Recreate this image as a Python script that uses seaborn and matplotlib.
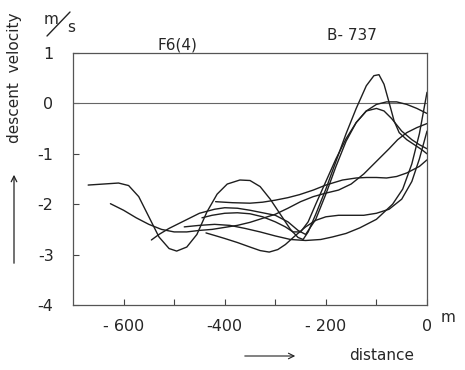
import numpy as np
import pandas as pd
import matplotlib
matplotlib.use("Agg")
import matplotlib.pyplot as plt
import seaborn as sns

# ---- data ----
c1_x = [-670, -640, -610, -590, -570, -550, -530, -510, -495, -475, -455, -435, -415, -395, -370, -350,
        -330, -310, -290, -270, -255, -245, -235, -220, -200, -180, -160, -140, -120, -105, -95, -85,
        -75, -65, -55, -40, -25, -10, 0]
c1_y = [-1.62, -1.60, -1.58, -1.63, -1.85, -2.25, -2.65, -2.88, -2.93, -2.85, -2.60, -2.15, -1.80, -1.60,
        -1.52, -1.53, -1.65, -1.90, -2.20, -2.50, -2.66, -2.70, -2.55, -2.20, -1.70, -1.15, -0.60, -0.10,
        0.35, 0.55, 0.57, 0.38, 0.02, -0.35, -0.58, -0.72, -0.82, -0.92, -1.00]

c2_x = [-626, -600, -575, -550, -525, -500, -475, -450, -425, -400, -375, -350, -325, -300, -275, -250,
        -225, -200, -175, -150, -125, -100, -75, -58, -40, -20, 0]
c2_y = [-1.99, -2.12, -2.27, -2.40, -2.50, -2.55, -2.55, -2.52, -2.50, -2.46, -2.42, -2.36, -2.28, -2.20,
        -2.08, -1.95, -1.85, -1.78, -1.72, -1.60, -1.40, -1.15, -0.90, -0.72, -0.58, -0.48, -0.40]

c3_x = [-545, -530, -510, -490, -470, -450, -420, -400, -375, -350, -325, -300, -275, -255, -240, -220,
        -200, -180, -160, -140, -120, -100, -85, -70, -50, -30, -15, 0]
c3_y = [-2.71, -2.60, -2.48, -2.38, -2.28, -2.18, -2.10, -2.07, -2.08, -2.12, -2.17, -2.22, -2.35, -2.52,
        -2.60, -2.30, -1.80, -1.25, -0.75, -0.38, -0.15, -0.10, -0.15, -0.30, -0.55, -0.72, -0.82, -0.90]

c4_x = [-418, -385, -350, -325, -300, -275, -252, -225, -200, -167, -140, -120, -100, -80, -60, -40,
        -15, 0]
c4_y = [-1.95, -1.97, -1.98, -1.96, -1.92, -1.87, -1.81, -1.72, -1.62, -1.52, -1.48, -1.47, -1.47, -1.48,
        -1.45, -1.38, -1.25, -1.12]

c5_x = [-445, -425, -400, -375, -350, -325, -300, -280, -265, -250, -235, -220, -200, -180, -160, -140,
        -120, -100, -80, -60, -40, -20, 0]
c5_y = [-2.27, -2.22, -2.18, -2.17, -2.19, -2.25, -2.35, -2.45, -2.55, -2.55, -2.35, -2.00, -1.55, -1.10,
        -0.70, -0.38, -0.15, -0.02, 0.03, 0.03, -0.02, -0.10, -0.20]

c6_x = [-437, -420, -400, -375, -350, -330, -312, -295, -280, -260, -240, -220, -200, -175, -150, -125,
        -100, -75, -50, -30, -15, 0]
c6_y = [-2.57, -2.62, -2.68, -2.76, -2.85, -2.92, -2.95, -2.90, -2.80, -2.62, -2.45, -2.32, -2.25, -2.22,
        -2.22, -2.22, -2.18, -2.10, -1.90, -1.55, -1.10, -0.55]

c7_x = [-480, -450, -420, -390, -360, -330, -300, -270, -240, -210, -187, -160, -133, -100, -68, -48,
        -30, -15, 0]
c7_y = [-2.45, -2.42, -2.40, -2.42, -2.48, -2.55, -2.63, -2.70, -2.72, -2.70, -2.65, -2.58, -2.47, -2.30,
        -2.00, -1.70, -1.20, -0.60, 0.22]

curves = [("1", c1_x, c1_y), ("2", c2_x, c2_y), ("3", c3_x, c3_y), ("4", c4_x, c4_y),
          ("5", c5_x, c5_y), ("6", c6_x, c6_y), ("7", c7_x, c7_y)]

x_ticks = [-600, -400, -200, 0]
x_tick_labels = ["- 600", "-400", "- 200", "0"]
y_ticks = [1, 0, -1, -2, -3, -4]
y_tick_labels = ["1", "0", "-1", "-2", "-3", "-4"]

rows = []
for name, xs, ys in curves:
    for i, (x, y) in enumerate(zip(xs, ys)):
        rows.append({"run": name, "order": i, "distance": x, "velocity": y})
df = pd.DataFrame(rows)

sns.set_style("ticks")
plt.rcParams["font.family"] = ["DejaVu Sans"]

fig = plt.figure(figsize=(4.65, 3.7), dpi=100)
ax = fig.add_axes([73 / 465, 1 - 305 / 370, (427 - 73) / 465, (305 - 53) / 370])

ax.axhline(0, color="#666666", lw=0.8, zorder=1)

sns.lineplot(data=df, x="distance", y="velocity", hue="run", units="run", estimator=None,
             sort=False, palette=["#1e1e1e"] * len(curves), lw=1.0, legend=False, ax=ax)

ax.set_xlim(-700, 0)
ax.set_ylim(-4, 1)
ax.set_xticks(x_ticks)
ax.set_xticklabels(x_tick_labels, fontsize=11.5)
ax.set_xticks(np.arange(-600, 0, 100), minor=True)
ax.set_yticks(y_ticks)
ax.set_yticklabels(y_tick_labels, fontsize=11.5)
ax.tick_params(axis="both", direction="in", length=4, width=0.8, color="#444444")
ax.tick_params(axis="x", which="minor", direction="in", length=4, width=0.8, color="#444444")
ax.tick_params(axis="x", pad=10)
ax.tick_params(axis="y", pad=14)
for s in ax.spines.values():
    s.set_visible(True)
    s.set_color("#555555")
    s.set_linewidth(0.9)
ax.set_xlabel("")
ax.set_ylabel("")

# titles and annotations
fig.text(177 / 465, 1 - 45 / 370, "F6(4)", fontsize=11, ha="center", va="center")
fig.text(352 / 465, 1 - 35 / 370, "B- 737", fontsize=11, ha="center", va="center")
fig.text(51 / 465, 1 - 19 / 370, "m", fontsize=11, ha="center", va="center")
fig.text(71 / 465, 1 - 28 / 370, "s", fontsize=11, ha="center", va="center")
fig.add_artist(plt.Line2D([47 / 465, 70 / 465], [1 - 36 / 370, 1 - 12 / 370], color="#222222", lw=1.0))
fig.text(14 / 465, 1 - 78 / 370, "descent  velocity", fontsize=11, rotation=90, ha="center", va="center")
ax.annotate("", xy=(14 / 465, 1 - 172 / 370), xytext=(14 / 465, 1 - 266 / 370),
            xycoords="figure fraction", textcoords="figure fraction",
            arrowprops=dict(arrowstyle="->", color="#222222", lw=0.9))
fig.text(448 / 465, 1 - 318 / 370, "m", fontsize=11, ha="center", va="center")
fig.text(382 / 465, 1 - 356 / 370, "distance", fontsize=11, ha="center", va="center")
ax.annotate("", xy=(298 / 465, 1 - 356 / 370), xytext=(242 / 465, 1 - 356 / 370),
            xycoords="figure fraction", textcoords="figure fraction",
            arrowprops=dict(arrowstyle="->", color="#222222", lw=0.8))

fig.savefig("out.png", dpi=100)
